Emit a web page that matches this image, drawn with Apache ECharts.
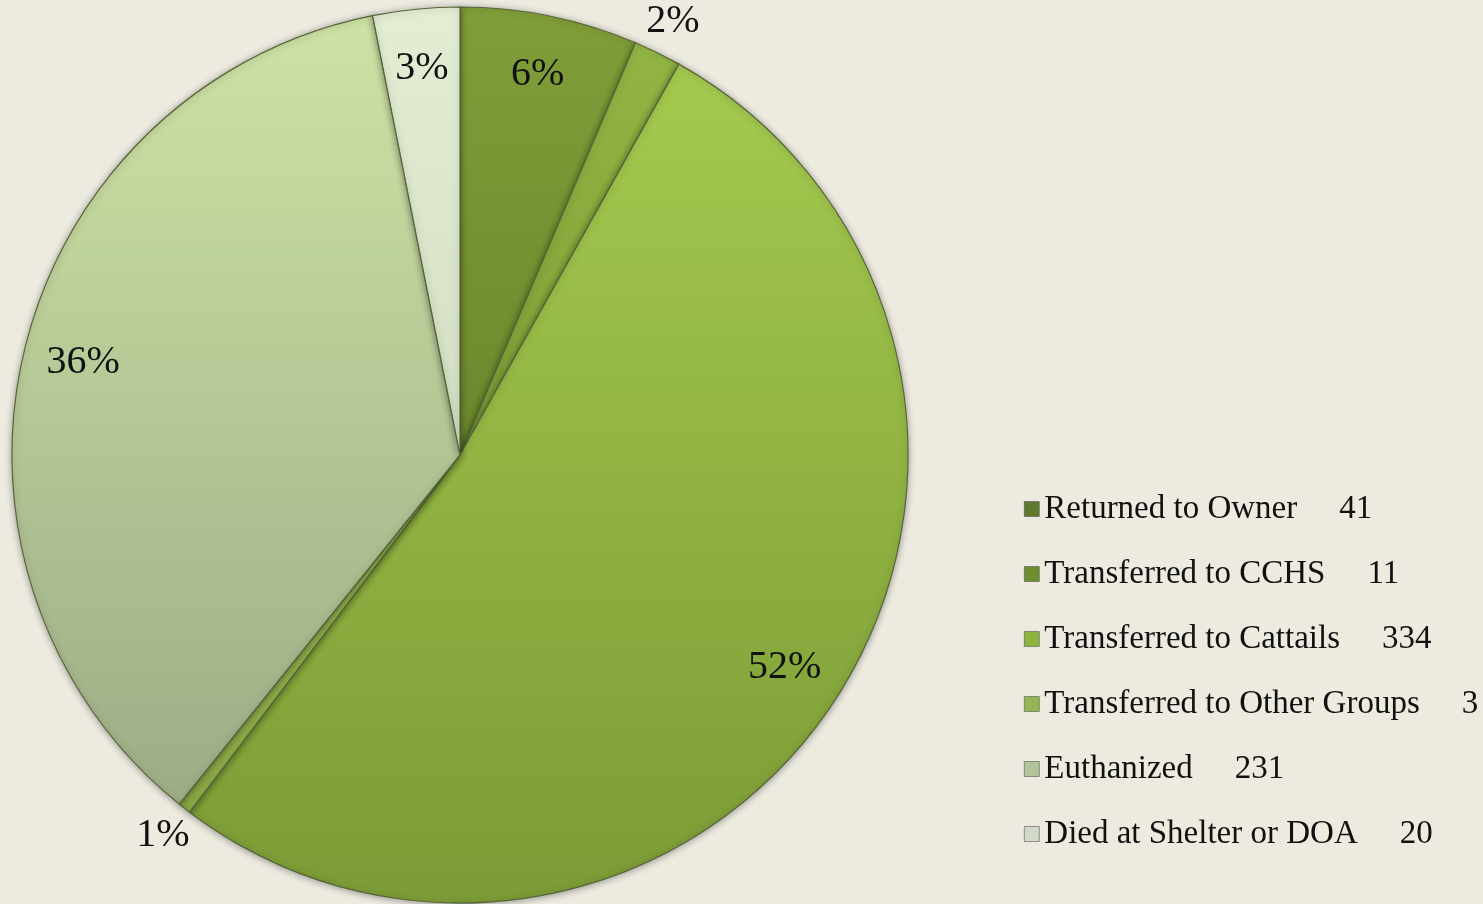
<!DOCTYPE html>
<html><head><meta charset="utf-8">
<script src="https://cdn.jsdelivr.net/npm/echarts@6/dist/echarts.min.js"></script>
<style>html,body{margin:0;padding:0;background:#EDEAE0;}#c{width:1483px;height:904px;}</style>
</head><body><div id="c"></div>
<script>
const categories = ['Returned to Owner','Transferred to CCHS','Transferred to Cattails','Transferred to Other Groups','Euthanized','Died at Shelter or DOA'];
const values = [41, 11, 334, 3, 231, 20];
const pctLabels = ['6%','2%','52%','1%','36%','3%'];
const outsideLabel = [false, true, false, true, false, false];

const sliceColors = [
  ['#809E39','#6C882D'],
  ['#93B544','#7E9E36'],
  ['#A4CA4F','#7C9B35'],
  ['#A5C65A','#8CA945'],
  ['#CDE2A4','#9CAD87'],
  ['#E3EDD3','#D3DEC2']
];
const legendIcon = ['#5E7A2A','#6C8E2C','#8DB53E','#95B556','#B2C49A','#D2D9C8'];

const grad = c => ({type:'linear',x:0,y:0,x2:0,y2:1,colorStops:[{offset:0,color:c[0]},{offset:1,color:c[1]}]});
const font = '"Liberation Serif","DejaVu Serif",serif';

const chart = echarts.init(document.getElementById('c'));
const mainData = categories.map((n,i)=>({name:n,value:values[i],itemStyle:{color:grad(sliceColors[i])}}));
const labelData = (outer) => categories.map((n,i)=>({
  name:n, value:values[i],
  label:{show: outsideLabel[i]===outer, formatter: pctLabels[i]}
}));
const labelSeries = (radius, outer) => ({
  type:'pie', center:[460,455], radius: radius, startAngle:90, clockwise:true,
  silent:true, avoidLabelOverlap:false,
  itemStyle:{color:'rgba(0,0,0,0)', borderWidth:0},
  emphasis:{disabled:true},
  label:{position:'inside', color:'#111', fontFamily:font, fontSize:40},
  labelLine:{show:false},
  data: labelData(outer)
});

chart.setOption({
  backgroundColor:'#EDEAE0',
  animation:false,
  legend:{
    orient:'vertical', left:1019, top:487,
    icon:'rect', itemWidth:15, itemHeight:15, itemGap:31,
    data: categories.map((n,i)=>({name:n, itemStyle:{color:legendIcon[i], borderColor:'#555', borderWidth:0.6}})),
    formatter: n => { const i = categories.indexOf(n); return n + '{g|}' + values[i]; },
    textStyle:{fontFamily:font, fontSize:33, color:'#111', lineHeight:34,
      rich:{g:{width:42}}}
  },
  series:[
    {
      type:'pie', center:[460,455], radius:448, startAngle:90, clockwise:true,
      avoidLabelOverlap:false,
      itemStyle:{borderColor:'#56663A', borderWidth:1.2, shadowBlur:7, shadowColor:'rgba(0,0,0,0.35)', shadowOffsetY:1},
      label:{show:false}, labelLine:{show:false},
      emphasis:{disabled:true},
      data: mainData
    },
    labelSeries([335,435], false),
    labelSeries([464,496], true)
  ]
});
</script></body></html>
